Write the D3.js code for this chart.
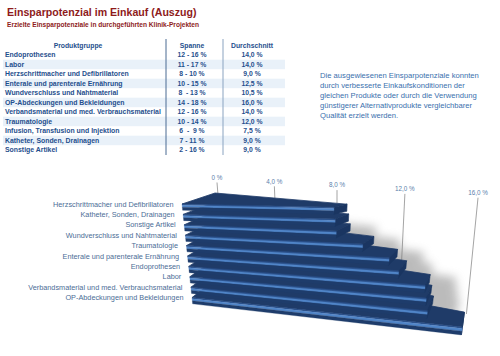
<!DOCTYPE html>
<html><head><meta charset="utf-8">
<script src="https://cdn.jsdelivr.net/npm/d3@7"></script>
<style>
html,body{margin:0;padding:0;background:#fff;}
svg{display:block;font-family:"Liberation Sans",Arial,sans-serif;}
</style></head>
<body>
<svg id="c" width="500" height="356"></svg>
<script>
// ---------- data ----------
const title = "Einsparpotenzial im Einkauf (Auszug)";
const subtitle = "Erzielte Einsparpotenziale in durchgeführten Klinik-Projekten";
const tableHeaders = ["Produktgruppe", "Spanne", "Durchschnitt"];
const tableCategories = ["Endoprothesen","Labor","Herzschrittmacher und Defibrillatoren","Enterale und parenterale Ernährung","Wundverschluss und Nahtmaterial","OP-Abdeckungen und Bekleidungen","Verbandsmaterial und med. Verbrauchsmaterial","Traumatologie","Infusion, Transfusion und Injektion","Katheter, Sonden, Drainagen","Sonstige Artikel"];
const tableSpans = ["12 - 16 %","11 - 17 %","8 - 10 %","10 - 15 %","8  - 13 %","14 - 18 %","12 - 16 %","10 - 14 %","6  -  9 %","7 - 11 %","2 - 16 %"];
const tableAverages = ["14,0 %","14,0 %","9,0 %","12,5 %","10,5 %","16,0 %","14,0 %","12,0 %","7,5 %","9,0 %","9,0 %"];
const noteLines = ["Die ausgewiesenen Einsparpotenziale konnten","durch verbesserte Einkaufskonditionen der","gleichen Produkte oder durch die Verwendung","günstigerer Alternativprodukte vergleichbarer","Qualität erzielt werden."];
const chartCategories = ["Herzschrittmacher und Defibrillatoren","Katheter, Sonden, Drainagen","Sonstige Artikel","Wundverschluss und Nahtmaterial","Traumatologie","Enterale und parenterale Ernährung","Endoprothesen","Labor","Verbandsmaterial und med. Verbrauchsmaterial","OP-Abdeckungen und Bekleidungen"];
const chartValues = [9.0, 9.0, 9.0, 10.5, 12.0, 12.5, 14.0, 14.0, 14.0, 16.0];
const tickValues = [0, 4, 8, 12, 16];
const tickLabels = ["0 %", "4,0 %", "8,0 %", "12,0 %", "16,0 %"];

// ---------- setup ----------
const svg = d3.select("#c");
const red = "#8e1b1b", blue = "#1f4f8d";

svg.append("text").attr("x",7).attr("y",16).attr("fill",red)
  .attr("font-size",10.6).attr("font-weight","bold").text(title);
svg.append("text").attr("x",7).attr("y",27).attr("fill",red)
  .attr("font-size",6.6).attr("font-weight","bold").text(subtitle);

// ---------- table ----------
const rowY = d3.scaleLinear().domain([0, tableCategories.length-1]).range([55, 150]);
const colX = [5, 192, 252];
const tbl = svg.append("g");
tableCategories.forEach((c,i)=>{
  if (i % 2 === 1) tbl.append("rect").attr("x",3).attr("y",rowY(i)-4.8).attr("width",282).attr("height",9.5).attr("fill","#e9f1f9");
});
tbl.append("line").attr("x1",166).attr("x2",166).attr("y1",39).attr("y2",155).attr("stroke","#4a6a92").attr("stroke-width",1);
tbl.append("line").attr("x1",223).attr("x2",223).attr("y1",39).attr("y2",155).attr("stroke","#8aa3c0").attr("stroke-width",1);
tbl.selectAll("text.h").data(tableHeaders).join("text")
  .attr("x",(d,i)=> i===0 ? 78 : colX[i]).attr("y",47.5).attr("text-anchor","middle")
  .attr("fill",blue).attr("font-size",6.8).attr("font-weight","bold").text(d=>d);
tbl.selectAll("text.c").data(tableCategories).join("text")
  .attr("x",colX[0]).attr("y",(d,i)=>rowY(i)+2.4).attr("fill",blue)
  .attr("font-size",6.9).attr("font-weight","bold").text(d=>d);
tbl.selectAll("text.s").data(tableSpans).join("text")
  .attr("x",colX[1]).attr("y",(d,i)=>rowY(i)+2.4).attr("text-anchor","middle")
  .style("white-space","pre").attr("fill",blue).attr("font-size",6.8).attr("font-weight","bold").text(d=>d);
tbl.selectAll("text.a").data(tableAverages).join("text")
  .attr("x",colX[2]).attr("y",(d,i)=>rowY(i)+2.4).attr("text-anchor","middle")
  .attr("fill",blue).attr("font-size",6.8).attr("font-weight","bold").text(d=>d);

// ---------- note ----------
svg.selectAll("text.n").data(noteLines).join("text")
  .attr("x",320).attr("y",(d,i)=>77.5+i*10).attr("fill","#3a70ad").attr("font-size",7.65).text(d=>d);

// ---------- pseudo-3D bar chart ----------
const n = chartCategories.length;
const xLeft = d3.scaleLinear().domain([0,n-1]).range([182,192]);
const yLeft = d3.scaleLinear().domain([0,n-1]).range([204,297.6]);
const vScale = d3.scaleLinear().domain([0,16]).range([0,270.4]); // horizontal extent on the front edge
const slope = d3.scaleLinear().domain([0,n-1]).range([0.35,1.84]);
const F = (v,i)=>[xLeft(i)+vScale(v), yLeft(i)+v*slope(i)];
const D = (v,i)=>[33-2.22*v+0.5*i, -11+0.89*v-2.02*i];
const T = (v,i)=>[0.6-0.1*v, 0.6*(10.4+0.17*v)];
const add = (a,b,k=1)=>[a[0]+b[0]*k, a[1]+b[1]*k];

const defs = svg.append("defs");
defs.append("filter").attr("id","blur").attr("x","-50%").attr("y","-50%").attr("width","200%").attr("height","200%")
  .append("feGaussianBlur").attr("stdDeviation",5);

const tickX = v => 217 + 13.69*v + 0.164*v*v;
const tickY = v => 177.5 + 0.95*v;
const VPv = [334,1640];
const maxV = d3.max(chartValues);

const chart = svg.append("g");
// gridlines / ticks
tickValues.forEach((v,k)=>{
  const x0 = tickX(v), y0 = tickY(v)+5;
  const y1 = v >= maxV ? 314 : (v > chartValues[0] ? 300 : tickY(v)+18);
  const x1 = x0 + (VPv[0]-x0)*(y1-y0)/(VPv[1]-y0);
  chart.append("line").attr("x1",x0).attr("y1",y0).attr("x2",x1).attr("y2",y1)
    .attr("stroke","#9a9a9a").attr("stroke-width",0.9);
  chart.append("text").attr("x",x0).attr("y",tickY(v)+2.3).attr("text-anchor","middle")
    .attr("fill","#5b80ab").attr("font-size",6.3).text(tickLabels[k]);
});

const poly = pts => "M" + pts.map(p=>p.join(",")).join("L") + "Z";
// shadow (cast to the right of the steps)
const sh = chart.append("g").attr("filter","url(#blur)").attr("opacity",0.5);
chartValues.forEach((v,i)=>{
  if (i < 2 || i === n-1) return;
  const f0=F(0,i), f1=F(v,i), b0=add(f0,D(0,i)), b1=add(f1,D(v,i));
  const pts=[b0,b1,add(b1,T(v,i)),add(f1,T(v,i)),add(f0,T(0,i))].map(p=>[p[0]+26,p[1]+3]);
  sh.append("path").attr("d",poly(pts)).attr("fill","#7a7a7a");
});

// slabs, bottom first
const bands = [[0,0.2,"#2a4f88"],[0.2,0.52,"#5085c8"],[0.52,1,"#1e3c6b"]];
for (let i=n-1;i>=0;i--){
  const v = chartValues[i];
  const g = chart.append("g");
  const f0=F(0,i), f1=F(v,i), d0=D(0,i), d1=D(v,i), t0=T(0,i), t1=T(v,i);
  const b0=add(f0,d0), b1=add(f1,d1);
  g.append("path").attr("d",poly([f0,b0,b1,f1])).attr("fill","#1f3b68")
    .attr("stroke","#1f3b68").attr("stroke-width",0.8).attr("stroke-linejoin","round");
  g.append("path").attr("d",poly([f1,b1,add(b1,t1),add(f1,t1)])).attr("fill","#1a3561")
    .attr("stroke","#1a3561").attr("stroke-width",0.6).attr("stroke-linejoin","round");
  bands.forEach(([a,b,col])=>{
    g.append("path").attr("d",poly([add(f0,t0,a),add(f1,t1,a),add(f1,t1,b),add(f0,t0,b)]))
      .attr("fill",col).attr("stroke",col).attr("stroke-width",0.3).attr("stroke-linejoin","round");
  });
}

// category labels
chart.selectAll("text.cat").data(chartCategories).join("text")
  .attr("x",(d,i)=>xLeft(i)-8.5).attr("y",(d,i)=>yLeft(i)+2.5).attr("text-anchor","end")
  .attr("fill","#4b6d96").attr("font-size",7.3).text(d=>d);
</script>
</body></html>
